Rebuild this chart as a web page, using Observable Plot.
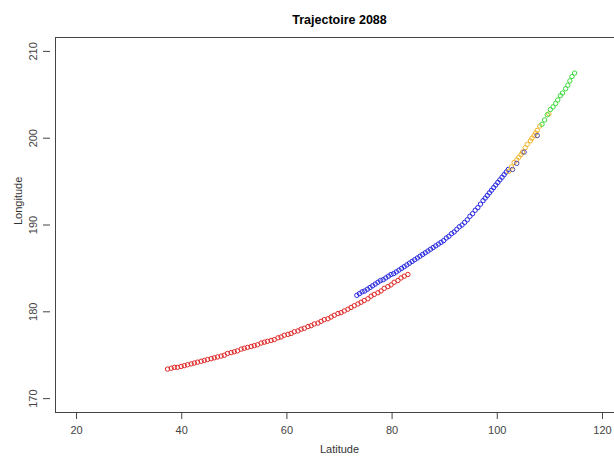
<!DOCTYPE html>
<html><head><meta charset="utf-8">
<script src="https://cdn.jsdelivr.net/npm/d3@7"></script>
<script src="https://cdn.jsdelivr.net/npm/@observablehq/plot@0.6"></script>
<style>html,body{margin:0;padding:0;background:#fff;overflow:hidden}</style>
</head><body><div id="chart"></div>
<script>
const title = "Trajectoire 2088";
const xLabel = "Latitude";
const yLabel = "Longitude";
const xTicks = [20, 40, 60, 80, 100, 120];
const yTicks = [170, 180, 190, 200, 210];
const xDomain = [16, 124];
const yDomain = [168.4, 211.6];

const redLat = [37.3,38.0,38.6,39.2,39.9,40.5,41.1,41.8,42.4,43.0,43.7,44.3,44.9,45.6,46.2,46.8,47.5,48.1,48.7,49.4,50.0,50.6,51.3,51.9,52.5,53.2,53.8,54.4,55.1,55.7,56.3,57.0,57.6,58.3,58.9,59.5,60.2,60.8,61.4,62.1,62.7,63.3,64.0,64.6,65.2,65.9,66.5,67.1,67.8,68.4,69.0,69.7,70.3,70.9,71.6,72.2,72.8,73.5,74.1,74.7,75.4,76.0,76.6,77.3,77.9,78.5,79.2,79.8,80.4,81.1,81.7,82.3,83.0];
const redLon = [173.4,173.5,173.6,173.6,173.7,173.8,173.9,174.0,174.1,174.2,174.3,174.4,174.5,174.6,174.7,174.8,174.9,175.0,175.2,175.3,175.4,175.5,175.7,175.8,175.9,176.0,176.1,176.2,176.4,176.5,176.6,176.7,176.8,177.0,177.1,177.3,177.4,177.5,177.7,177.8,178.0,178.1,178.3,178.4,178.6,178.7,178.9,179.1,179.2,179.4,179.6,179.8,179.9,180.1,180.3,180.5,180.7,180.9,181.1,181.3,181.5,181.8,182.0,182.2,182.4,182.7,182.9,183.1,183.4,183.6,183.9,184.1,184.3];

const blueLat = [73.3,73.8,74.3,74.8,75.3,75.8,76.3,76.8,77.3,77.8,78.3,78.8,79.3,79.8,80.3,80.8,81.3,81.8,82.3,82.8,83.3,83.8,84.3,84.8,85.3,85.8,86.3,86.8,87.3,87.8,88.3,88.8,89.3,89.8,90.3,90.8,91.3,91.8,92.3,92.8,93.3,93.8,94.3,94.8,95.3,95.8,96.3,96.8,97.3,97.7,98.1,98.5,98.9,99.3,99.7,100.1,100.5,100.9,101.3,101.7,102.1];
const blueLon = [181.9,182.1,182.3,182.4,182.6,182.8,183.0,183.2,183.4,183.6,183.7,183.9,184.1,184.3,184.4,184.6,184.8,185.0,185.2,185.4,185.6,185.8,186.0,186.2,186.4,186.6,186.8,187.0,187.2,187.4,187.6,187.8,188.0,188.2,188.5,188.7,189.0,189.2,189.5,189.8,190.0,190.3,190.6,191.0,191.3,191.7,192.0,192.4,192.8,193.1,193.4,193.7,194.0,194.3,194.6,194.9,195.2,195.5,195.8,196.1,196.4];

const orangeLat = [102.2,102.7,103.2,103.7,104.1,104.5,104.8,105.3,105.7,106.3,106.6,107.0,107.3,107.6,108.1,109.8];
const orangeLon = [196.2,196.7,197.2,197.5,197.8,198.1,198.4,198.9,199.3,199.7,200.0,200.3,200.6,200.9,201.4,202.8];

const greenLat = [108.5,109.0,109.5,110.1,110.6,111.1,111.5,112.0,112.4,113.0,113.4,113.8,114.2,114.7];
const greenLon = [201.6,202.1,202.7,203.3,203.6,204.0,204.4,204.9,205.2,205.7,206.1,206.6,207.1,207.5];

const darkLat = [102.9,103.7,105.1,107.6];
const darkLon = [196.4,197.1,198.4,200.3];

const series = [
  {color: "#e02828", lat: redLat, lon: redLon},
  {color: "#2828e0", lat: blueLat, lon: blueLon},
  {color: "#f2b428", lat: orangeLat, lon: orangeLon},
  {color: "#3cdc3c", lat: greenLat, lon: greenLon},
  {color: "#5a4aa0", lat: darkLat, lon: darkLon}
];
const points = series.flatMap(s => s.lat.map((v, i) => ({lat: v, lon: s.lon[i], color: s.color})));

const chart = Plot.plot({
  width: 614,
  height: 459,
  marginLeft: 55,
  marginTop: 37,
  marginBottom: 47,
  marginRight: 0,
  style: {fontFamily: "'Liberation Sans', Arial, sans-serif", background: "#fff", overflow: "hidden"},
  x: {domain: xDomain, range: [55, 623]},
  y: {domain: yDomain},
  color: {type: "identity"},
  marks: [
    Plot.ruleY([yDomain[0], yDomain[1]], {stroke: "#444", strokeWidth: 1}),
    Plot.ruleX([xDomain[0]], {stroke: "#444", strokeWidth: 1}),
    Plot.axisX({ticks: xTicks, tickSize: 7, tickPadding: 7, fontSize: 11, label: null, stroke: "#444", fill: "#444"}),
    Plot.axisY({ticks: yTicks, tickSize: 7, tickPadding: 7, tickRotate: -90, dx: -5, fontSize: 11, label: null, stroke: "#444", fill: "#444"}),
    Plot.dot(points, {x: "lat", y: "lon", stroke: "color", r: 2.2, strokeWidth: 1, fill: "none"}),
    Plot.text([title], {frameAnchor: "top", dx: 4.5, dy: -22, fontSize: 12.5, fontWeight: "bold", fill: "#000"}),
    Plot.text([xLabel], {frameAnchor: "bottom", dx: 4.5, dy: 40, fontSize: 11, fill: "#333"}),
    Plot.text([yLabel], {frameAnchor: "left", dx: -37, rotate: -90, fontSize: 11, fill: "#333"})
  ]
});
document.getElementById("chart").appendChild(chart);
</script>
</body></html>
